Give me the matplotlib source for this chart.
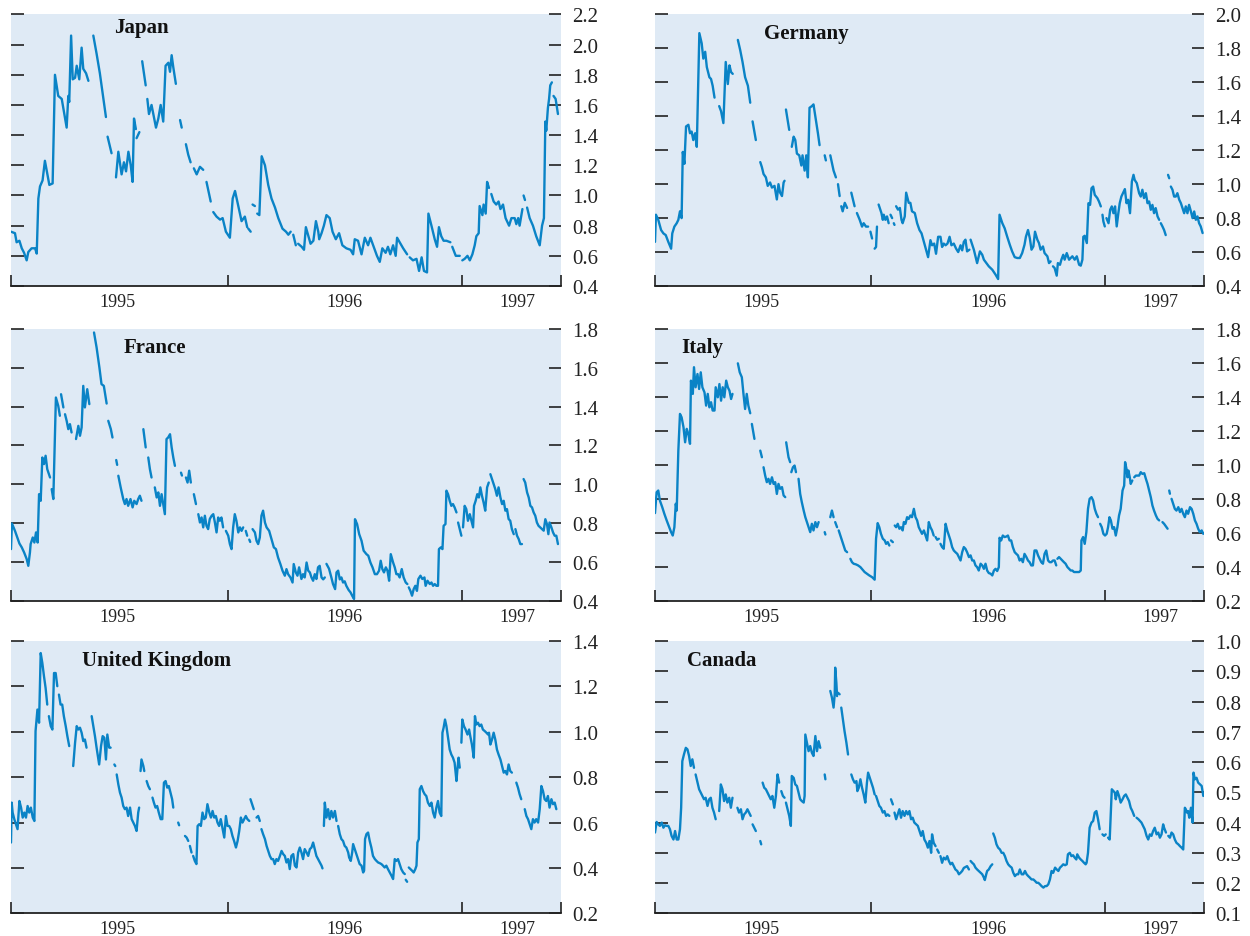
import numpy as np
import matplotlib
matplotlib.use('Agg')
import matplotlib.pyplot as plt

# (decimal year, value); (None, None) marks a break in the series
GAP = (None, None)

japan = [
    (1995.073, 0.76), (1995.090, 0.75), (1995.097, 0.69), (1995.109, 0.70), (1995.119, 0.65),
    (1995.129, 0.62), (1995.140, 0.57), (1995.147, 0.625), (1995.161, 0.65), (1995.176, 0.65),
    (1995.183, 0.615), (1995.190, 0.98), (1995.197, 1.06), (1995.208, 1.10), (1995.218, 1.23),
    (1995.237, 1.07), (1995.251, 1.08), (1995.261, 1.80), (1995.275, 1.66), (1995.290, 1.64),
    (1995.301, 1.54), (1995.311, 1.45), (1995.318, 1.66), (1995.322, 1.62), (1995.330, 2.06),
    (1995.337, 1.77), (1995.347, 1.78), (1995.354, 1.86), (1995.365, 1.77), (1995.375, 1.98),
    (1995.382, 1.84), (1995.394, 1.81), (1995.404, 1.76), GAP,
    (1995.425, 2.06), (1995.439, 1.94), (1995.453, 1.81), (1995.479, 1.52), GAP,
    (1995.486, 1.39), (1995.503, 1.28), GAP,
    (1995.522, 1.12), (1995.532, 1.29), (1995.546, 1.14), (1995.556, 1.22), (1995.565, 1.16),
    (1995.575, 1.29), (1995.585, 1.20), (1995.593, 1.09), (1995.599, 1.51), (1995.607, 1.44), GAP,
    (1995.610, 1.38), (1995.622, 1.42), GAP,
    (1995.634, 1.89), (1995.649, 1.73), GAP,
    (1995.656, 1.64), (1995.663, 1.54), (1995.674, 1.60), (1995.684, 1.52), (1995.693, 1.45),
    (1995.703, 1.51), (1995.713, 1.60), (1995.724, 1.49), (1995.734, 1.86), (1995.746, 1.88),
    (1995.753, 1.82), (1995.760, 1.93), (1995.767, 1.85), (1995.778, 1.74), GAP,
    (1995.796, 1.50), (1995.803, 1.45), GAP,
    (1995.821, 1.34), (1995.831, 1.27), (1995.841, 1.22), GAP,
    (1995.855, 1.18), (1995.867, 1.14), (1995.881, 1.19), (1995.895, 1.17), GAP,
    (1995.909, 1.09), (1995.927, 0.96), GAP,
    (1995.938, 0.89), (1995.952, 0.86), (1995.967, 0.84), (1995.978, 0.85), (1995.992, 0.76),
    (1996.009, 0.72), (1996.021, 0.98), (1996.031, 1.03), (1996.045, 0.93), (1996.059, 0.83),
    (1996.073, 0.86), (1996.083, 0.79), GAP,
    (1996.088, 0.78), (1996.098, 0.76), GAP,
    (1996.106, 0.94), (1996.116, 0.93), GAP,
    (1996.126, 0.88), (1996.135, 0.87), (1996.145, 1.26), (1996.159, 1.20), (1996.173, 1.07),
    (1996.187, 0.98), (1996.202, 0.92), (1996.216, 0.85), (1996.234, 0.78), (1996.249, 0.76),
    (1996.259, 0.74), (1996.269, 0.76), GAP,
    (1996.280, 0.74), (1996.291, 0.67), GAP,
    (1996.301, 0.68), (1996.316, 0.66), (1996.326, 0.64), (1996.334, 0.79), (1996.354, 0.68),
    (1996.366, 0.70), (1996.377, 0.83), (1996.387, 0.76), (1996.391, 0.71), (1996.401, 0.75),
    (1996.411, 0.80), (1996.422, 0.87), (1996.436, 0.85), (1996.448, 0.76), (1996.462, 0.71),
    (1996.476, 0.75), (1996.490, 0.67), (1996.507, 0.65), (1996.525, 0.64), (1996.536, 0.61),
    (1996.543, 0.71), (1996.557, 0.70), (1996.572, 0.61), (1996.586, 0.72), (1996.600, 0.67),
    (1996.610, 0.72), (1996.629, 0.64), (1996.638, 0.60), (1996.650, 0.56), (1996.661, 0.65),
    (1996.675, 0.62), (1996.685, 0.66), (1996.695, 0.61), (1996.707, 0.67), (1996.718, 0.60),
    (1996.724, 0.72), (1996.735, 0.69), (1996.750, 0.65), (1996.767, 0.61), GAP,
    (1996.778, 0.59), (1996.792, 0.57), (1996.807, 0.58), (1996.818, 0.50), (1996.829, 0.59),
    (1996.839, 0.50), (1996.852, 0.49), (1996.858, 0.88), (1996.871, 0.80), (1996.885, 0.71),
    (1996.895, 0.66), (1996.903, 0.79), (1996.913, 0.73), (1996.923, 0.70), (1996.935, 0.70),
    (1996.952, 0.69), GAP,
    (1996.960, 0.66), (1996.975, 0.60), (1996.992, 0.60), GAP,
    (1997.003, 0.57), (1997.013, 0.58), (1997.025, 0.60), (1997.035, 0.57), (1997.046, 0.61),
    (1997.056, 0.67), (1997.063, 0.73), (1997.073, 0.75), (1997.077, 0.93), (1997.089, 0.87),
    (1997.094, 0.94), (1997.103, 0.88), (1997.109, 1.09), (1997.117, 1.05), GAP,
    (1997.127, 1.01), (1997.137, 0.96), (1997.148, 0.94), (1997.158, 0.96), (1997.166, 0.91),
    (1997.177, 0.94), (1997.188, 0.85), (1997.203, 0.80), (1997.213, 0.85), (1997.227, 0.85),
    (1997.234, 0.81), (1997.242, 0.85), (1997.248, 0.80), (1997.260, 0.91), GAP,
    (1997.265, 1.00), (1997.271, 0.97), GAP,
    (1997.280, 0.92), (1997.291, 0.85), (1997.305, 0.80), (1997.319, 0.73), (1997.334, 0.67),
    (1997.344, 0.80), (1997.352, 0.85), (1997.358, 1.49), (1997.362, 1.43), (1997.369, 1.58),
    (1997.374, 1.64), (1997.379, 1.73), (1997.386, 1.75), GAP,
    (1997.393, 1.66), (1997.402, 1.64), (1997.412, 1.54),
]

germany = [
    (1995.073, 0.66), (1995.077, 0.82), (1995.087, 0.79), (1995.099, 0.73), (1995.109, 0.71),
    (1995.119, 0.70), (1995.130, 0.66), (1995.142, 0.62), (1995.147, 0.71), (1995.156, 0.75),
    (1995.166, 0.77), (1995.173, 0.79), (1995.180, 0.84), (1995.187, 0.80), (1995.192, 1.19),
    (1995.199, 1.12), (1995.206, 1.34), (1995.216, 1.35), (1995.223, 1.30), (1995.230, 1.31),
    (1995.237, 1.26), (1995.245, 1.30), (1995.252, 1.22), (1995.263, 1.89), (1995.273, 1.83),
    (1995.280, 1.74), (1995.288, 1.78), (1995.295, 1.69), (1995.306, 1.63), (1995.313, 1.62),
    (1995.320, 1.58), (1995.328, 1.51), GAP,
    (1995.348, 1.46), (1995.356, 1.43), (1995.366, 1.36), (1995.376, 1.72), (1995.385, 1.59),
    (1995.392, 1.70), (1995.399, 1.66), (1995.406, 1.65), GAP,
    (1995.428, 1.85), (1995.438, 1.79), (1995.448, 1.72), (1995.459, 1.63), (1995.471, 1.58),
    (1995.481, 1.48), GAP,
    (1995.491, 1.37), (1995.505, 1.26), GAP,
    (1995.524, 1.13), (1995.531, 1.10), (1995.538, 1.06), (1995.548, 1.04), (1995.556, 0.99),
    (1995.566, 1.01), (1995.574, 0.98), (1995.585, 0.99), (1995.595, 0.91), (1995.602, 1.00),
    (1995.609, 0.95), (1995.617, 0.93), (1995.624, 1.01), (1995.628, 1.02), GAP,
    (1995.634, 1.44), (1995.648, 1.32), GAP,
    (1995.659, 1.22), (1995.667, 1.28), (1995.674, 1.26), (1995.681, 1.18), (1995.691, 1.17),
    (1995.700, 1.11), (1995.705, 1.17), (1995.714, 1.08), (1995.721, 1.17), (1995.728, 1.04),
    (1995.735, 1.45), (1995.745, 1.46), (1995.752, 1.47), (1995.762, 1.38), (1995.771, 1.30),
    (1995.778, 1.23), GAP,
    (1995.800, 1.17), (1995.805, 1.14), GAP,
    (1995.824, 1.17), (1995.838, 1.08), (1995.848, 1.04), GAP,
    (1995.857, 1.00), (1995.864, 0.93), GAP,
    (1995.871, 0.87), (1995.877, 0.84), (1995.886, 0.89), (1995.896, 0.86), GAP,
    (1995.914, 0.95), (1995.928, 0.87), GAP,
    (1995.938, 0.83), (1995.950, 0.79), (1995.960, 0.75), (1995.967, 0.77), (1995.977, 0.75),
    (1995.986, 0.75), GAP,
    (1995.996, 0.72), (1996.003, 0.68), GAP,
    (1996.014, 0.62), (1996.020, 0.63), (1996.024, 0.75), GAP,
    (1996.031, 0.88), (1996.043, 0.83), (1996.049, 0.79), (1996.053, 0.82), (1996.060, 0.79),
    (1996.067, 0.81), (1996.074, 0.77), GAP,
    (1996.082, 0.82), (1996.089, 0.80), GAP,
    (1996.096, 0.77), (1996.099, 0.76), GAP,
    (1996.106, 0.87), (1996.114, 0.85), (1996.122, 0.86), (1996.129, 0.79), (1996.134, 0.77),
    (1996.143, 0.81), (1996.149, 0.95), (1996.160, 0.89), (1996.167, 0.89), (1996.174, 0.84),
    (1996.186, 0.83), (1996.196, 0.77), (1996.206, 0.73), (1996.215, 0.71), (1996.225, 0.66),
    (1996.235, 0.61), (1996.243, 0.57), (1996.253, 0.67), (1996.260, 0.64), (1996.269, 0.65),
    (1996.277, 0.59), (1996.286, 0.69), (1996.296, 0.69), (1996.303, 0.63), (1996.310, 0.65),
    (1996.318, 0.64), (1996.326, 0.65), (1996.335, 0.69), (1996.343, 0.64), (1996.353, 0.65),
    (1996.363, 0.62), (1996.372, 0.60), (1996.382, 0.64), (1996.389, 0.61), (1996.396, 0.66),
    (1996.403, 0.673), (1996.410, 0.604), (1996.420, 0.614), GAP,
    (1996.425, 0.673), (1996.439, 0.614), (1996.453, 0.535), (1996.465, 0.604), (1996.475, 0.584),
    (1996.482, 0.555), (1996.493, 0.535), (1996.503, 0.516), (1996.518, 0.496), (1996.532, 0.467),
    (1996.543, 0.441), (1996.549, 0.82), (1996.561, 0.77), (1996.571, 0.74), (1996.582, 0.69),
    (1996.593, 0.643), (1996.603, 0.604), (1996.614, 0.57), (1996.625, 0.565), (1996.636, 0.565),
    (1996.646, 0.594), (1996.656, 0.643), (1996.662, 0.69), (1996.671, 0.73), (1996.679, 0.68),
    (1996.686, 0.614), (1996.694, 0.633), (1996.701, 0.72), (1996.711, 0.673), (1996.718, 0.653),
    (1996.725, 0.614), (1996.735, 0.633), (1996.742, 0.594), (1996.754, 0.575), (1996.761, 0.535),
    (1996.768, 0.545), GAP,
    (1996.778, 0.516), (1996.785, 0.506), (1996.794, 0.461), (1996.799, 0.535), (1996.808, 0.525),
    (1996.814, 0.555), (1996.822, 0.584), (1996.828, 0.555), (1996.837, 0.594), (1996.847, 0.555),
    (1996.854, 0.565), (1996.861, 0.575), (1996.871, 0.555), (1996.880, 0.575), (1996.890, 0.525),
    (1996.897, 0.52), (1996.904, 0.555), (1996.908, 0.69), (1996.914, 0.696), (1996.923, 0.653),
    (1996.930, 0.888), (1996.937, 0.878), (1996.943, 0.976), (1996.950, 0.986), (1996.957, 0.937),
    (1996.968, 0.918), (1996.975, 0.898), (1996.983, 0.869), GAP,
    (1996.990, 0.82), (1996.994, 0.78), (1997.000, 0.751), GAP,
    (1997.007, 0.80), (1997.016, 0.77), (1997.023, 0.849), (1997.030, 0.869), (1997.037, 0.829),
    (1997.044, 0.869), (1997.051, 0.751), (1997.058, 0.829), (1997.064, 0.888), (1997.071, 0.927),
    (1997.078, 0.947), (1997.086, 0.971), (1997.093, 0.888), (1997.100, 0.908), (1997.108, 0.829),
    (1997.116, 1.016), (1997.123, 1.055), (1997.128, 1.025), (1997.137, 1.006), (1997.147, 0.947),
    (1997.154, 0.927), (1997.161, 0.967), (1997.168, 0.918), (1997.176, 0.947), (1997.183, 0.888),
    (1997.190, 0.898), (1997.197, 0.849), (1997.204, 0.878), (1997.211, 0.829), (1997.218, 0.859),
    (1997.226, 0.81), (1997.233, 0.79), GAP,
    (1997.240, 0.77), (1997.247, 0.751), (1997.254, 0.73), (1997.261, 0.70), GAP,
    (1997.271, 1.055), (1997.276, 1.035), GAP,
    (1997.283, 0.986), (1997.290, 0.967), (1997.297, 0.927), (1997.304, 0.927), (1997.311, 0.947),
    (1997.319, 0.908), (1997.326, 0.888), (1997.333, 0.859), (1997.340, 0.829), (1997.347, 0.869),
    (1997.354, 0.829), (1997.361, 0.878), (1997.369, 0.839), (1997.376, 0.80), (1997.383, 0.839),
    (1997.390, 0.79), (1997.397, 0.81), (1997.404, 0.77), (1997.411, 0.751), (1997.419, 0.712),
]

france = [
    (1995.073, 0.666), (1995.077, 0.798), (1995.090, 0.76), (1995.100, 0.726), (1995.109, 0.695),
    (1995.119, 0.675), (1995.129, 0.649), (1995.140, 0.615), (1995.147, 0.58), (1995.154, 0.649),
    (1995.157, 0.692), (1995.166, 0.726), (1995.173, 0.70), (1995.180, 0.752), (1995.187, 0.70),
    (1995.193, 0.949), (1995.200, 0.915), (1995.207, 1.138), (1995.214, 1.104), (1995.221, 1.147),
    (1995.228, 1.078), (1995.240, 1.035), GAP,
    (1995.247, 0.975), (1995.254, 0.924), (1995.265, 1.447), (1995.275, 1.404), (1995.282, 1.353), GAP,
    (1995.287, 1.464), (1995.297, 1.396), GAP,
    (1995.304, 1.361), (1995.311, 1.327), (1995.318, 1.284), (1995.325, 1.31), (1995.332, 1.267), GAP,
    (1995.351, 1.233), (1995.361, 1.301), (1995.368, 1.25), (1995.375, 1.293), (1995.382, 1.507),
    (1995.389, 1.396), (1995.399, 1.49), (1995.408, 1.413), GAP,
    (1995.428, 1.782), (1995.439, 1.705), (1995.451, 1.602), (1995.460, 1.516), (1995.470, 1.507),
    (1995.482, 1.416), GAP,
    (1995.489, 1.327), (1995.500, 1.284), (1995.507, 1.241), GAP,
    (1995.523, 1.125), (1995.527, 1.10), GAP,
    (1995.532, 1.044), (1995.542, 0.984), (1995.553, 0.924), (1995.560, 0.898), (1995.567, 0.924),
    (1995.574, 0.889), (1995.584, 0.924), (1995.593, 0.881), (1995.600, 0.915), (1995.610, 0.898),
    (1995.617, 0.924), (1995.624, 0.941), (1995.631, 0.915), GAP,
    (1995.639, 1.284), (1995.649, 1.19), GAP,
    (1995.660, 1.138), (1995.667, 1.078), (1995.674, 1.035), GAP,
    (1995.688, 0.984), (1995.696, 0.932), (1995.703, 0.958), (1995.710, 0.889), (1995.717, 0.949),
    (1995.724, 0.898), (1995.731, 0.846), (1995.738, 1.233), (1995.745, 1.241), (1995.753, 1.258),
    (1995.760, 1.19), (1995.767, 1.138), (1995.774, 1.095), GAP,
    (1995.800, 1.06), (1995.804, 1.045), GAP,
    (1995.821, 1.035), (1995.828, 1.009), (1995.835, 1.07), (1995.842, 1.009), GAP,
    (1995.855, 0.949), (1995.864, 0.898), GAP,
    (1995.874, 0.846), (1995.881, 0.803), (1995.888, 0.829), (1995.895, 0.778), (1995.902, 0.838),
    (1995.909, 0.786), (1995.916, 0.769), (1995.923, 0.821), (1995.931, 0.838), (1995.938, 0.846),
    (1995.945, 0.803), (1995.952, 0.752), (1995.959, 0.829), (1995.966, 0.812), (1995.973, 0.829),
    (1995.980, 0.778), GAP,
    (1995.992, 0.76), (1996.002, 0.735), (1996.009, 0.692), (1996.016, 0.666), (1996.023, 0.778),
    (1996.030, 0.846), (1996.037, 0.812), (1996.045, 0.752), (1996.052, 0.778), (1996.059, 0.76),
    (1996.066, 0.778), GAP,
    (1996.077, 0.76), (1996.083, 0.735), GAP,
    (1996.092, 0.715), (1996.096, 0.703), GAP,
    (1996.106, 0.769), (1996.116, 0.752), (1996.123, 0.709), (1996.130, 0.692), (1996.137, 0.726),
    (1996.144, 0.838), (1996.151, 0.864), (1996.159, 0.803), (1996.166, 0.778), (1996.177, 0.76),
    (1996.187, 0.718), (1996.197, 0.675), (1996.206, 0.666), (1996.215, 0.623), (1996.225, 0.589),
    (1996.234, 0.555), (1996.244, 0.529), (1996.251, 0.563), (1996.258, 0.537), (1996.268, 0.52),
    (1996.277, 0.494), (1996.282, 0.589), (1996.291, 0.546), (1996.298, 0.529), (1996.305, 0.572),
    (1996.315, 0.512), (1996.322, 0.537), (1996.329, 0.52), (1996.337, 0.597), (1996.344, 0.555),
    (1996.351, 0.546), (1996.358, 0.52), (1996.365, 0.503), (1996.372, 0.537), (1996.379, 0.512),
    (1996.386, 0.572), (1996.393, 0.58), (1996.401, 0.52), (1996.408, 0.51), (1996.415, 0.52), GAP,
    (1996.422, 0.59), (1996.433, 0.565), (1996.443, 0.52), (1996.450, 0.486), (1996.459, 0.46),
    (1996.465, 0.546), (1996.472, 0.555), (1996.479, 0.51), (1996.486, 0.52), (1996.493, 0.494),
    (1996.500, 0.50), (1996.507, 0.477), (1996.517, 0.455), (1996.525, 0.443), (1996.532, 0.426),
    (1996.540, 0.409), (1996.544, 0.82), (1996.553, 0.795), (1996.562, 0.743), (1996.572, 0.709),
    (1996.581, 0.658), (1996.593, 0.64), (1996.601, 0.632), (1996.610, 0.597), (1996.619, 0.572),
    (1996.629, 0.537), (1996.638, 0.537), (1996.647, 0.555), (1996.654, 0.606), (1996.661, 0.563),
    (1996.668, 0.546), (1996.676, 0.572), (1996.683, 0.555), (1996.690, 0.503), (1996.697, 0.64),
    (1996.707, 0.597), (1996.714, 0.572), (1996.721, 0.537), (1996.728, 0.537), (1996.735, 0.52),
    (1996.744, 0.563), (1996.752, 0.52), (1996.761, 0.494), (1996.768, 0.486), GAP,
    (1996.774, 0.469), (1996.781, 0.451), (1996.788, 0.426), (1996.795, 0.46), (1996.802, 0.477),
    (1996.809, 0.451), (1996.815, 0.512), (1996.824, 0.529), (1996.832, 0.512), (1996.841, 0.52),
    (1996.846, 0.477), (1996.854, 0.503), (1996.864, 0.486), (1996.871, 0.494), (1996.878, 0.477),
    (1996.885, 0.486), (1996.892, 0.477), (1996.899, 0.477), (1996.903, 0.666), (1996.911, 0.675),
    (1996.918, 0.666), (1996.923, 0.786), (1996.931, 0.795), (1996.935, 0.967), (1996.942, 0.949),
    (1996.949, 0.915), (1996.956, 0.889), (1996.963, 0.898), (1996.970, 0.881), (1996.978, 0.855), GAP,
    (1996.985, 0.803), (1996.992, 0.769), (1996.999, 0.735), GAP,
    (1997.006, 0.778), (1997.013, 0.889), (1997.020, 0.872), (1997.027, 0.812), (1997.035, 0.846),
    (1997.042, 0.812), (1997.049, 0.778), (1997.053, 0.889), (1997.060, 0.915), (1997.067, 0.949),
    (1997.074, 0.932), (1997.080, 0.984), (1997.087, 0.941), (1997.094, 0.906), (1997.101, 0.864),
    (1997.109, 0.984), (1997.116, 1.009), GAP,
    (1997.123, 1.052), (1997.130, 1.027), (1997.137, 1.001), (1997.144, 0.975), (1997.151, 0.941),
    (1997.158, 0.984), (1997.166, 0.932), (1997.173, 0.898), (1997.180, 0.915), (1997.187, 0.864),
    (1997.194, 0.872), (1997.201, 0.821), (1997.208, 0.812), (1997.215, 0.769), (1997.223, 0.743), GAP,
    (1997.230, 0.769), (1997.237, 0.735), (1997.244, 0.718), (1997.251, 0.692), (1997.258, 0.692), GAP,
    (1997.265, 1.027), (1997.272, 1.009), (1997.280, 0.958), (1997.287, 0.932), (1997.294, 0.889),
    (1997.301, 0.881), (1997.308, 0.855), (1997.315, 0.838), (1997.322, 0.803), (1997.329, 0.786),
    (1997.336, 0.778), (1997.344, 0.769), (1997.351, 0.761), (1997.358, 0.82), (1997.365, 0.795),
    (1997.371, 0.743), (1997.376, 0.803), (1997.384, 0.778), (1997.391, 0.752), (1997.398, 0.735),
    (1997.405, 0.735), (1997.412, 0.692),
]

italy = [
    (1995.073, 0.716), (1995.080, 0.839), (1995.087, 0.849), (1995.094, 0.79), (1995.104, 0.751),
    (1995.113, 0.712), (1995.123, 0.673), (1995.133, 0.637), (1995.142, 0.604), (1995.149, 0.584),
    (1995.156, 0.633), (1995.162, 0.771), (1995.166, 0.731), (1995.173, 1.084), (1995.180, 1.30),
    (1995.187, 1.28), (1995.195, 1.222), (1995.202, 1.133), (1995.209, 1.212), (1995.216, 1.182),
    (1995.223, 1.124), (1995.227, 1.496), (1995.235, 1.418), (1995.240, 1.575), (1995.247, 1.457),
    (1995.255, 1.535), (1995.262, 1.447), (1995.269, 1.545), (1995.276, 1.457), (1995.285, 1.427),
    (1995.292, 1.349), (1995.299, 1.418), (1995.306, 1.339), (1995.313, 1.369), (1995.320, 1.32),
    (1995.328, 1.32), (1995.333, 1.457), (1995.342, 1.398), (1995.349, 1.476), (1995.356, 1.378),
    (1995.363, 1.457), (1995.370, 1.398), (1995.378, 1.496), (1995.385, 1.457), (1995.392, 1.437),
    (1995.399, 1.388), (1995.405, 1.418), GAP,
    (1995.428, 1.598), (1995.436, 1.545), (1995.445, 1.516), (1995.452, 1.418), (1995.459, 1.329),
    (1995.466, 1.418), (1995.473, 1.349), (1995.481, 1.304), GAP,
    (1995.488, 1.241), (1995.499, 1.153), GAP,
    (1995.524, 1.084), (1995.531, 1.045), GAP,
    (1995.538, 0.986), (1995.545, 0.937), (1995.552, 0.898), (1995.559, 0.918), (1995.566, 0.888),
    (1995.574, 0.927), (1995.581, 0.888), (1995.588, 0.898), (1995.595, 0.829), (1995.602, 0.888),
    (1995.609, 0.859), (1995.617, 0.869), (1995.624, 0.82), (1995.631, 0.81), GAP,
    (1995.635, 1.133), (1995.645, 1.045), (1995.652, 1.016), GAP,
    (1995.657, 0.957), (1995.664, 0.986), (1995.671, 0.996), (1995.677, 0.957), GAP,
    (1995.688, 0.918), (1995.695, 0.829), (1995.702, 0.78), (1995.710, 0.731), (1995.717, 0.692),
    (1995.724, 0.663), (1995.731, 0.633), (1995.738, 0.604), (1995.745, 0.653), (1995.752, 0.614),
    (1995.760, 0.663), (1995.767, 0.633), (1995.774, 0.663), GAP,
    (1995.800, 0.604), (1995.803, 0.59), GAP,
    (1995.824, 0.692), (1995.831, 0.731), (1995.838, 0.692), GAP,
    (1995.845, 0.663), (1995.853, 0.633), GAP,
    (1995.860, 0.614), (1995.867, 0.584), (1995.874, 0.555), (1995.881, 0.525), (1995.888, 0.496),
    (1995.896, 0.486), GAP,
    (1995.910, 0.447), (1995.917, 0.427), (1995.924, 0.418), (1995.934, 0.414), (1995.943, 0.408),
    (1995.953, 0.398), (1995.963, 0.382), (1995.971, 0.369), (1995.981, 0.359), (1995.991, 0.349),
    (1996.003, 0.339), (1996.014, 0.324), (1996.020, 0.565), (1996.027, 0.657), (1996.034, 0.633),
    (1996.041, 0.594), (1996.049, 0.565), (1996.057, 0.555), (1996.063, 0.535), (1996.070, 0.545),
    (1996.077, 0.525), GAP,
    (1996.084, 0.555), (1996.092, 0.545), GAP,
    (1996.100, 0.643), (1996.106, 0.633), (1996.113, 0.653), (1996.120, 0.624), (1996.127, 0.633),
    (1996.134, 0.614), (1996.139, 0.663), (1996.146, 0.653), (1996.153, 0.692), (1996.160, 0.682),
    (1996.167, 0.702), (1996.174, 0.692), (1996.182, 0.741), (1996.189, 0.692), (1996.196, 0.673),
    (1996.203, 0.633), (1996.210, 0.614), (1996.217, 0.594), (1996.225, 0.614), (1996.232, 0.584),
    (1996.239, 0.555), (1996.246, 0.663), (1996.253, 0.633), (1996.260, 0.614), (1996.267, 0.584), GAP,
    (1996.275, 0.575), (1996.282, 0.559), (1996.289, 0.565), GAP,
    (1996.296, 0.535), (1996.303, 0.516), (1996.310, 0.506), (1996.318, 0.653), (1996.325, 0.614),
    (1996.332, 0.584), (1996.339, 0.555), (1996.346, 0.516), (1996.353, 0.496), (1996.360, 0.486),
    (1996.368, 0.476), (1996.375, 0.457), (1996.382, 0.437), (1996.389, 0.486), (1996.396, 0.516),
    (1996.403, 0.506), (1996.410, 0.486), (1996.418, 0.457), (1996.425, 0.467), (1996.432, 0.437),
    (1996.439, 0.437), (1996.446, 0.408), (1996.453, 0.398), (1996.460, 0.378), (1996.468, 0.418),
    (1996.475, 0.408), (1996.482, 0.388), (1996.489, 0.418), (1996.496, 0.378), (1996.503, 0.363),
    (1996.511, 0.359), (1996.518, 0.349), (1996.525, 0.378), (1996.532, 0.388), (1996.539, 0.375),
    (1996.546, 0.398), (1996.549, 0.571), (1996.556, 0.555), (1996.563, 0.584), (1996.571, 0.575),
    (1996.578, 0.578), (1996.585, 0.584), (1996.592, 0.555), (1996.599, 0.555), (1996.606, 0.516),
    (1996.614, 0.486), (1996.621, 0.476), (1996.628, 0.467), (1996.635, 0.437), (1996.642, 0.447),
    (1996.649, 0.427), (1996.656, 0.476), (1996.664, 0.457), (1996.671, 0.437), (1996.678, 0.427),
    (1996.685, 0.408), (1996.692, 0.408), (1996.699, 0.496), (1996.707, 0.496), (1996.714, 0.467),
    (1996.721, 0.447), (1996.728, 0.427), (1996.735, 0.418), (1996.742, 0.476), (1996.749, 0.496),
    (1996.757, 0.437), (1996.764, 0.427), (1996.771, 0.427), (1996.778, 0.437), (1996.785, 0.437),
    (1996.792, 0.408), GAP,
    (1996.797, 0.447), (1996.804, 0.457), (1996.811, 0.447), (1996.818, 0.437), (1996.825, 0.427),
    (1996.832, 0.418), (1996.840, 0.398), (1996.847, 0.388), (1996.854, 0.378), (1996.861, 0.378),
    (1996.868, 0.369), (1996.890, 0.369), (1996.897, 0.378), (1996.900, 0.555), (1996.907, 0.575),
    (1996.914, 0.535), (1996.921, 0.604), (1996.928, 0.741), (1996.935, 0.80), (1996.943, 0.81),
    (1996.950, 0.79), (1996.957, 0.741), (1996.964, 0.712), (1996.971, 0.692), GAP,
    (1996.980, 0.653), (1996.987, 0.633), (1996.994, 0.594), (1997.001, 0.584), (1997.008, 0.594),
    (1997.014, 0.633), (1997.020, 0.692), (1997.026, 0.673), (1997.033, 0.624), (1997.040, 0.633),
    (1997.047, 0.584), (1997.054, 0.633), (1997.061, 0.702), (1997.068, 0.741), (1997.076, 0.849),
    (1997.083, 0.878), (1997.087, 1.016), (1997.093, 0.976), (1997.097, 0.927), (1997.101, 0.967),
    (1997.107, 0.927), (1997.111, 0.888), (1997.118, 0.908), GAP,
    (1997.126, 0.927), (1997.133, 0.937), (1997.140, 0.937), (1997.147, 0.937), (1997.154, 0.957),
    (1997.161, 0.947), (1997.169, 0.951), (1997.176, 0.918), (1997.183, 0.888), (1997.190, 0.849),
    (1997.197, 0.81), (1997.204, 0.761), (1997.211, 0.731), (1997.219, 0.702), (1997.226, 0.682),
    (1997.233, 0.673), GAP,
    (1997.247, 0.663), (1997.254, 0.653), (1997.262, 0.637), (1997.269, 0.624), GAP,
    (1997.276, 0.849), (1997.279, 0.83), GAP,
    (1997.286, 0.80), (1997.293, 0.771), (1997.300, 0.741), (1997.307, 0.731), (1997.315, 0.751),
    (1997.322, 0.722), (1997.329, 0.741), (1997.336, 0.712), (1997.343, 0.692), (1997.350, 0.731),
    (1997.357, 0.712), (1997.365, 0.751), (1997.372, 0.741), (1997.379, 0.712), (1997.386, 0.673),
    (1997.393, 0.653), (1997.400, 0.624), (1997.407, 0.604), (1997.415, 0.614), (1997.422, 0.594),
]

united_kingdom = [
    (1995.073, 0.512), (1995.076, 0.688), (1995.080, 0.644), (1995.087, 0.615), (1995.094, 0.593),
    (1995.101, 0.571), (1995.109, 0.695), (1995.116, 0.666), (1995.123, 0.622), (1995.130, 0.644),
    (1995.137, 0.622), (1995.144, 0.673), (1995.151, 0.644), (1995.158, 0.666), (1995.166, 0.622),
    (1995.173, 0.607), (1995.178, 1.003), (1995.186, 1.098), (1995.193, 1.04), (1995.200, 1.347),
    (1995.207, 1.303), (1995.214, 1.245), (1995.221, 1.193), (1995.228, 1.12), GAP,
    (1995.235, 1.069), (1995.243, 1.025), (1995.250, 1.01), (1995.257, 1.259), (1995.264, 1.259),
    (1995.271, 1.201), GAP,
    (1995.278, 1.164), (1995.285, 1.12), (1995.292, 1.12), (1995.299, 1.069), (1995.307, 1.025),
    (1995.314, 0.981), (1995.322, 0.937), GAP,
    (1995.339, 0.849), (1995.347, 0.952), (1995.354, 1.025), (1995.361, 1.01), (1995.368, 1.018),
    (1995.375, 0.996), (1995.382, 0.959), (1995.389, 0.966), (1995.396, 0.93), GAP,
    (1995.418, 1.069), (1995.425, 1.025), (1995.432, 0.981), (1995.439, 0.93), (1995.450, 0.856),
    (1995.458, 0.937), (1995.465, 0.981), (1995.472, 0.974), (1995.479, 0.878), (1995.485, 0.988),
    (1995.493, 0.93), (1995.499, 0.93), GAP,
    (1995.515, 0.856), (1995.519, 0.849), GAP,
    (1995.525, 0.812), (1995.532, 0.768), (1995.539, 0.732), (1995.546, 0.71), (1995.553, 0.673),
    (1995.560, 0.659), (1995.567, 0.666), (1995.574, 0.629), (1995.582, 0.666), (1995.589, 0.615),
    (1995.596, 0.60), (1995.603, 0.585), (1995.610, 0.563), (1995.617, 0.644), (1995.621, 0.666), GAP,
    (1995.627, 0.827), (1995.631, 0.878), (1995.639, 0.849), (1995.643, 0.827), GAP,
    (1995.653, 0.783), (1995.660, 0.761), (1995.667, 0.747), GAP,
    (1995.678, 0.71), (1995.684, 0.688), (1995.691, 0.666), (1995.698, 0.673), (1995.705, 0.644),
    (1995.713, 0.615), (1995.720, 0.615), (1995.727, 0.776), (1995.734, 0.783), (1995.741, 0.754),
    (1995.748, 0.761), (1995.755, 0.732), (1995.762, 0.703), (1995.767, 0.666), GAP,
    (1995.788, 0.60), (1995.792, 0.588), GAP,
    (1995.817, 0.541), (1995.824, 0.534), (1995.831, 0.519), GAP,
    (1995.838, 0.497), (1995.845, 0.468), GAP,
    (1995.852, 0.453), (1995.859, 0.431), (1995.866, 0.417), (1995.871, 0.585), (1995.878, 0.593),
    (1995.885, 0.585), (1995.892, 0.644), (1995.899, 0.615), (1995.906, 0.622), (1995.913, 0.681),
    (1995.921, 0.644), (1995.928, 0.622), (1995.935, 0.651), (1995.942, 0.622), (1995.949, 0.629),
    (1995.956, 0.60), (1995.963, 0.585), (1995.970, 0.615), (1995.978, 0.571), (1995.985, 0.534),
    (1995.992, 0.629), (1995.999, 0.585), GAP,
    (1996.006, 0.585), (1996.013, 0.571), (1996.020, 0.541), (1996.027, 0.519), (1996.035, 0.49),
    (1996.042, 0.519), (1996.049, 0.563), (1996.056, 0.622), (1996.063, 0.60), (1996.070, 0.615),
    (1996.077, 0.629), (1996.084, 0.615), (1996.092, 0.607), GAP,
    (1996.097, 0.703), (1996.104, 0.681), (1996.111, 0.659), GAP,
    (1996.123, 0.622), (1996.130, 0.629), (1996.137, 0.607), GAP,
    (1996.144, 0.571), (1996.151, 0.549), (1996.159, 0.527), (1996.166, 0.497), (1996.173, 0.475),
    (1996.180, 0.453), (1996.187, 0.439), (1996.194, 0.439), (1996.201, 0.417), (1996.208, 0.439),
    (1996.215, 0.431), (1996.223, 0.453), (1996.230, 0.475), (1996.237, 0.461), (1996.244, 0.453),
    (1996.251, 0.424), (1996.258, 0.439), (1996.265, 0.395), (1996.272, 0.453), (1996.280, 0.461),
    (1996.287, 0.41), (1996.294, 0.402), (1996.301, 0.468), (1996.308, 0.49), (1996.315, 0.468),
    (1996.322, 0.439), (1996.329, 0.483), (1996.337, 0.468), (1996.344, 0.453), (1996.351, 0.483),
    (1996.358, 0.49), (1996.365, 0.512), (1996.372, 0.483), (1996.379, 0.453), (1996.386, 0.439),
    (1996.393, 0.424), (1996.401, 0.41), (1996.405, 0.398), GAP,
    (1996.411, 0.585), (1996.415, 0.688), (1996.422, 0.622), (1996.429, 0.659), (1996.436, 0.615),
    (1996.443, 0.651), (1996.450, 0.622), (1996.458, 0.651), (1996.465, 0.607), GAP,
    (1996.472, 0.585), (1996.479, 0.549), (1996.486, 0.527), (1996.493, 0.519), (1996.500, 0.497),
    (1996.507, 0.49), (1996.515, 0.468), (1996.519, 0.446), (1996.526, 0.431), (1996.532, 0.468),
    (1996.536, 0.505), (1996.543, 0.483), (1996.550, 0.461), (1996.557, 0.439), (1996.564, 0.417),
    (1996.572, 0.41), (1996.579, 0.38), (1996.583, 0.388), (1996.587, 0.527), (1996.593, 0.549),
    (1996.600, 0.556), (1996.607, 0.519), (1996.614, 0.49), (1996.621, 0.453), (1996.629, 0.439),
    (1996.636, 0.431), (1996.643, 0.424), (1996.650, 0.421), (1996.657, 0.417), (1996.664, 0.41),
    (1996.671, 0.402), (1996.678, 0.41), (1996.685, 0.395), (1996.693, 0.38), (1996.700, 0.366),
    (1996.707, 0.351), (1996.714, 0.439), (1996.721, 0.431), (1996.728, 0.439), (1996.735, 0.417),
    (1996.742, 0.395), (1996.750, 0.38), (1996.757, 0.373), GAP,
    (1996.761, 0.348), (1996.767, 0.339), GAP,
    (1996.774, 0.402), (1996.781, 0.395), (1996.788, 0.388), (1996.795, 0.38), (1996.802, 0.395),
    (1996.807, 0.41), (1996.811, 0.512), (1996.817, 0.527), (1996.821, 0.747), (1996.828, 0.761),
    (1996.835, 0.739), (1996.842, 0.725), (1996.849, 0.717), (1996.856, 0.688), (1996.864, 0.673),
    (1996.871, 0.688), (1996.878, 0.644), (1996.885, 0.622), (1996.892, 0.666), (1996.899, 0.695),
    (1996.906, 0.644), (1996.913, 0.629), (1996.918, 0.996), (1996.923, 1.018), (1996.929, 1.054),
    (1996.935, 1.025), (1996.942, 0.974), (1996.949, 0.922), (1996.956, 0.90), (1996.963, 0.886),
    (1996.970, 0.864), (1996.978, 0.783), (1996.982, 0.834), (1996.987, 0.886), (1996.992, 0.842), GAP,
    (1996.999, 0.952), (1997.003, 1.054), (1997.010, 1.025), (1997.017, 1.01), (1997.025, 0.988),
    (1997.032, 1.01), (1997.037, 0.981), (1997.044, 0.944), (1997.052, 0.886), (1997.057, 1.069),
    (1997.063, 1.032), (1997.070, 1.04), (1997.077, 1.025), (1997.084, 1.032), (1997.091, 1.01),
    (1997.099, 1.003), (1997.106, 0.996), (1997.113, 0.988), (1997.117, 0.996), (1997.123, 0.944),
    (1997.130, 0.966), (1997.137, 0.996), (1997.144, 0.966), (1997.151, 0.922), (1997.158, 0.90),
    (1997.166, 0.878), (1997.173, 0.849), (1997.180, 0.82), (1997.187, 0.827), (1997.194, 0.812),
    (1997.201, 0.856), (1997.208, 0.827), (1997.215, 0.82), GAP,
    (1997.234, 0.776), (1997.241, 0.754), (1997.248, 0.725), (1997.255, 0.703), GAP,
    (1997.270, 0.659), (1997.277, 0.629), (1997.284, 0.615), (1997.291, 0.593), (1997.298, 0.571),
    (1997.305, 0.615), (1997.312, 0.60), (1997.319, 0.615), (1997.327, 0.60), (1997.334, 0.659),
    (1997.341, 0.761), (1997.348, 0.739), (1997.355, 0.703), (1997.362, 0.695), (1997.369, 0.717),
    (1997.376, 0.666), (1997.384, 0.703), (1997.391, 0.681), (1997.398, 0.688), (1997.405, 0.659),
]

canada = [
    (1995.073, 0.367), (1995.080, 0.402), (1995.087, 0.394), (1995.094, 0.389), (1995.102, 0.40),
    (1995.109, 0.383), (1995.116, 0.391), (1995.123, 0.389), (1995.130, 0.389), (1995.137, 0.378),
    (1995.144, 0.356), (1995.152, 0.344), (1995.159, 0.372), (1995.166, 0.344), (1995.173, 0.344),
    (1995.180, 0.378), (1995.185, 0.449), (1995.190, 0.603), (1995.197, 0.625), (1995.205, 0.647),
    (1995.212, 0.642), (1995.219, 0.62), (1995.226, 0.587), (1995.233, 0.609), (1995.240, 0.581), GAP,
    (1995.247, 0.559), (1995.255, 0.532), (1995.262, 0.51), (1995.269, 0.499), (1995.276, 0.488),
    (1995.283, 0.477), (1995.290, 0.482), (1995.298, 0.455), (1995.305, 0.477), (1995.312, 0.482),
    (1995.319, 0.449), (1995.326, 0.433), (1995.333, 0.411), GAP,
    (1995.348, 0.438), (1995.355, 0.526), (1995.362, 0.51), (1995.369, 0.471), (1995.376, 0.493),
    (1995.383, 0.466), (1995.391, 0.482), (1995.398, 0.449), (1995.405, 0.482), GAP,
    (1995.426, 0.449), (1995.433, 0.433), (1995.441, 0.444), (1995.448, 0.411), (1995.455, 0.427),
    (1995.462, 0.433), (1995.469, 0.444), (1995.476, 0.433), (1995.483, 0.422), GAP,
    (1995.491, 0.394), (1995.498, 0.383), (1995.505, 0.372), GAP,
    (1995.524, 0.339), (1995.528, 0.328), GAP,
    (1995.534, 0.532), (1995.541, 0.515), (1995.548, 0.51), (1995.555, 0.499), (1995.562, 0.488),
    (1995.569, 0.477), (1995.576, 0.488), (1995.584, 0.449), (1995.591, 0.488), (1995.598, 0.559),
    (1995.605, 0.532), GAP,
    (1995.614, 0.504), (1995.621, 0.488), (1995.628, 0.482), GAP,
    (1995.634, 0.466), (1995.641, 0.444), (1995.648, 0.422), (1995.655, 0.389), (1995.659, 0.554),
    (1995.667, 0.548), (1995.674, 0.526), (1995.681, 0.521), (1995.688, 0.499), (1995.695, 0.477),
    (1995.702, 0.471), (1995.710, 0.466), (1995.714, 0.488), (1995.717, 0.691), (1995.724, 0.664),
    (1995.731, 0.636), (1995.738, 0.653), (1995.745, 0.631), (1995.752, 0.62), (1995.760, 0.686),
    (1995.767, 0.636), (1995.774, 0.669), (1995.781, 0.647), GAP,
    (1995.800, 0.559), (1995.803, 0.543), GAP,
    (1995.824, 0.835), (1995.831, 0.813), (1995.838, 0.78), (1995.843, 0.824), (1995.845, 0.912),
    (1995.850, 0.862), (1995.853, 0.818), GAP,
    (1995.857, 0.829), (1995.864, 0.824), GAP,
    (1995.871, 0.78), (1995.878, 0.741), (1995.885, 0.702), (1995.893, 0.664), (1995.900, 0.625), GAP,
    (1995.914, 0.559), (1995.921, 0.543), (1995.928, 0.532), (1995.936, 0.537), (1995.940, 0.504),
    (1995.946, 0.515), (1995.953, 0.543), (1995.960, 0.515), (1995.967, 0.493), (1995.974, 0.466),
    (1995.981, 0.532), (1995.986, 0.565), (1995.993, 0.548), (1996.000, 0.532), (1996.007, 0.515),
    (1996.014, 0.493), GAP,
    (1996.020, 0.488), (1996.027, 0.471), (1996.034, 0.455), (1996.041, 0.449), (1996.049, 0.433),
    (1996.056, 0.438), (1996.063, 0.422), (1996.070, 0.427), (1996.077, 0.422), GAP,
    (1996.084, 0.477), (1996.092, 0.46), GAP,
    (1996.099, 0.433), (1996.106, 0.411), (1996.113, 0.427), (1996.120, 0.444), (1996.127, 0.416),
    (1996.134, 0.438), (1996.142, 0.422), (1996.149, 0.438), (1996.156, 0.427), (1996.163, 0.438),
    (1996.170, 0.411), (1996.177, 0.416), (1996.184, 0.40), (1996.192, 0.394), (1996.199, 0.389),
    (1996.206, 0.372), (1996.213, 0.356), (1996.220, 0.372), (1996.227, 0.344), (1996.235, 0.333),
    (1996.242, 0.317), (1996.249, 0.339), (1996.256, 0.30), (1996.260, 0.361), (1996.267, 0.333),
    (1996.275, 0.322), GAP,
    (1996.282, 0.311), (1996.289, 0.30), GAP,
    (1996.296, 0.289), (1996.303, 0.267), (1996.310, 0.284), (1996.318, 0.278), (1996.325, 0.289),
    (1996.332, 0.273), (1996.339, 0.262), (1996.346, 0.267), (1996.353, 0.256), (1996.360, 0.245),
    (1996.368, 0.24), (1996.375, 0.229), (1996.382, 0.234), (1996.389, 0.24), (1996.396, 0.25),
    (1996.410, 0.256), (1996.418, 0.245), GAP,
    (1996.425, 0.273), (1996.432, 0.267), (1996.439, 0.262), (1996.446, 0.251), (1996.453, 0.245),
    (1996.460, 0.24), (1996.468, 0.234), (1996.475, 0.229), (1996.482, 0.218), (1996.486, 0.21),
    (1996.492, 0.229), (1996.496, 0.24), (1996.503, 0.245), (1996.511, 0.256), (1996.518, 0.262), GAP,
    (1996.522, 0.364), (1996.529, 0.35), (1996.536, 0.328), (1996.543, 0.317), (1996.551, 0.311),
    (1996.558, 0.30), (1996.565, 0.30), (1996.572, 0.289), (1996.579, 0.273), (1996.586, 0.262),
    (1996.593, 0.256), (1996.601, 0.251), (1996.608, 0.234), (1996.615, 0.223), (1996.622, 0.229),
    (1996.629, 0.229), (1996.636, 0.245), (1996.644, 0.229), (1996.651, 0.229), (1996.658, 0.24),
    (1996.665, 0.229), (1996.672, 0.223), (1996.679, 0.218), (1996.686, 0.212), (1996.694, 0.212),
    (1996.701, 0.207), (1996.708, 0.201), (1996.715, 0.201), (1996.722, 0.196), (1996.729, 0.19),
    (1996.737, 0.185), (1996.744, 0.19), (1996.751, 0.19), (1996.758, 0.196), (1996.765, 0.212),
    (1996.772, 0.24), (1996.779, 0.234), (1996.787, 0.251), (1996.794, 0.245), (1996.801, 0.24),
    (1996.808, 0.251), (1996.815, 0.256), (1996.822, 0.262), (1996.830, 0.259), (1996.837, 0.262),
    (1996.842, 0.295), (1996.850, 0.30), (1996.857, 0.289), (1996.864, 0.292), (1996.871, 0.284),
    (1996.878, 0.278), (1996.882, 0.295), (1996.890, 0.284), (1996.897, 0.278), (1996.904, 0.273),
    (1996.911, 0.267), (1996.918, 0.262), (1996.922, 0.267), (1996.928, 0.30), (1996.935, 0.383),
    (1996.943, 0.40), (1996.950, 0.405), (1996.957, 0.433), (1996.964, 0.438), (1996.971, 0.411),
    (1996.978, 0.378), GAP,
    (1996.990, 0.361), (1996.997, 0.356), (1997.004, 0.361), GAP,
    (1997.014, 0.35), (1997.021, 0.344), (1997.026, 0.433), (1997.030, 0.51), (1997.037, 0.504),
    (1997.043, 0.499), (1997.047, 0.477), (1997.054, 0.504), (1997.061, 0.488), (1997.068, 0.466),
    (1997.076, 0.477), (1997.083, 0.488), (1997.090, 0.493), (1997.097, 0.482), (1997.104, 0.471),
    (1997.111, 0.449), (1997.118, 0.438), (1997.126, 0.422), GAP,
    (1997.136, 0.416), (1997.144, 0.411), (1997.151, 0.405), (1997.157, 0.40), (1997.164, 0.389),
    (1997.171, 0.378), (1997.179, 0.356), (1997.186, 0.344), (1997.193, 0.361), (1997.200, 0.356),
    (1997.207, 0.372), (1997.214, 0.383), (1997.222, 0.361), (1997.229, 0.367), (1997.236, 0.35),
    (1997.243, 0.361), (1997.250, 0.394), (1997.254, 0.383), (1997.262, 0.367), GAP,
    (1997.272, 0.356), (1997.279, 0.35), (1997.286, 0.367), (1997.293, 0.361), (1997.300, 0.344),
    (1997.307, 0.333), (1997.315, 0.328), (1997.322, 0.322), (1997.329, 0.317), (1997.336, 0.311),
    (1997.340, 0.389), (1997.343, 0.449), (1997.347, 0.444), (1997.352, 0.433), (1997.357, 0.438),
    (1997.362, 0.416), (1997.369, 0.449), (1997.376, 0.40), (1997.380, 0.565), (1997.386, 0.543),
    (1997.393, 0.548), (1997.400, 0.532), (1997.408, 0.526), (1997.415, 0.521), (1997.422, 0.488),
]

# panel title, series, y range, y step, title anchor (axes fraction)
PANELS = [
    ('Japan', japan, (0.4, 2.2), 0.2, (0.187, 0.952)),
    ('Germany', germany, (0.4, 2.0), 0.2, (0.199, 0.930)),
    ('France', france, (0.4, 1.8), 0.2, (0.205, 0.934)),
    ('Italy', italy, (0.2, 1.8), 0.2, (0.047, 0.934)),
    ('United Kingdom', united_kingdom, (0.2, 1.4), 0.2, (0.129, 0.930)),
    ('Canada', canada, (0.1, 1.0), 0.1, (0.058, 0.930)),
]

X_START, X_END = 1995.073, 1997.425
YEAR_BOUNDS = [X_START, 1996.0, 1997.0, X_END]
YEAR_LABELS = ['1995', '1996', '1997']
YEAR_LABEL_POS = [1995.53, 1996.5, 1997.24]

BG = '#dfeaf5'
LINE = '#0a83c6'
INK = '#222222'
SERIF = ['Liberation Serif', 'DejaVu Serif']

# axes rectangles in figure fractions
COLS = [(0.0088, 0.4400), (0.5240, 0.4392)]
ROWS = [(0.6937, 0.2898), (0.3578, 0.2900), (0.0242, 0.2906)]


def draw_panel(fig, rect, title, series, ylim, step, title_pos):
    ax = fig.add_axes(rect)
    ax.set_facecolor(BG)

    t, v = np.array(series, dtype=float).T
    ax.plot(t, v, color=LINE, lw=1.7, solid_joinstyle='round', solid_capstyle='round')

    ax.set_xlim(X_START, X_END)
    ax.set_ylim(*ylim)

    for side in ('top', 'left', 'right'):
        ax.spines[side].set_visible(False)
    ax.spines['bottom'].set_color(INK)
    ax.spines['bottom'].set_linewidth(1.3)

    yt = np.round(np.arange(ylim[0], ylim[1] + step / 2, step), 2)
    ax.set_yticks(yt)
    ax.set_yticklabels(['%.1f' % y for y in yt])
    ax.tick_params(axis='y', left=True, right=True, labelleft=False, labelright=True,
                   direction='in', length=9, width=1.2, color=INK, pad=8,
                   labelsize=15, labelcolor=INK)

    ax.set_xticks(YEAR_BOUNDS)
    ax.set_xticklabels([])
    ax.set_xticks(YEAR_LABEL_POS, minor=True)
    ax.set_xticklabels(YEAR_LABELS, minor=True)
    ax.tick_params(axis='x', which='major', direction='in', length=8, width=1.2, color=INK)
    ax.tick_params(axis='x', which='minor', length=0, pad=5, labelsize=13, labelcolor=INK)

    for lab in ax.get_yticklabels() + ax.get_xticklabels(minor=True):
        lab.set_family(SERIF)

    ax.text(title_pos[0], title_pos[1], title, transform=ax.transAxes,
            ha='left', va='center', fontsize=15, fontweight='bold',
            family=SERIF, color='#111111')
    return ax


def main():
    fig = plt.figure(figsize=(12.5, 9.37), dpi=100)
    fig.patch.set_facecolor('white')

    for i, (title, series, ylim, step, title_pos) in enumerate(PANELS):
        row, col = divmod(i, 2)
        x0, w = COLS[col]
        y0, h = ROWS[row]
        draw_panel(fig, [x0, y0, w, h], title, series, ylim, step, title_pos)

    fig.savefig('out.png', dpi=100, facecolor='white')


if __name__ == '__main__':
    main()
